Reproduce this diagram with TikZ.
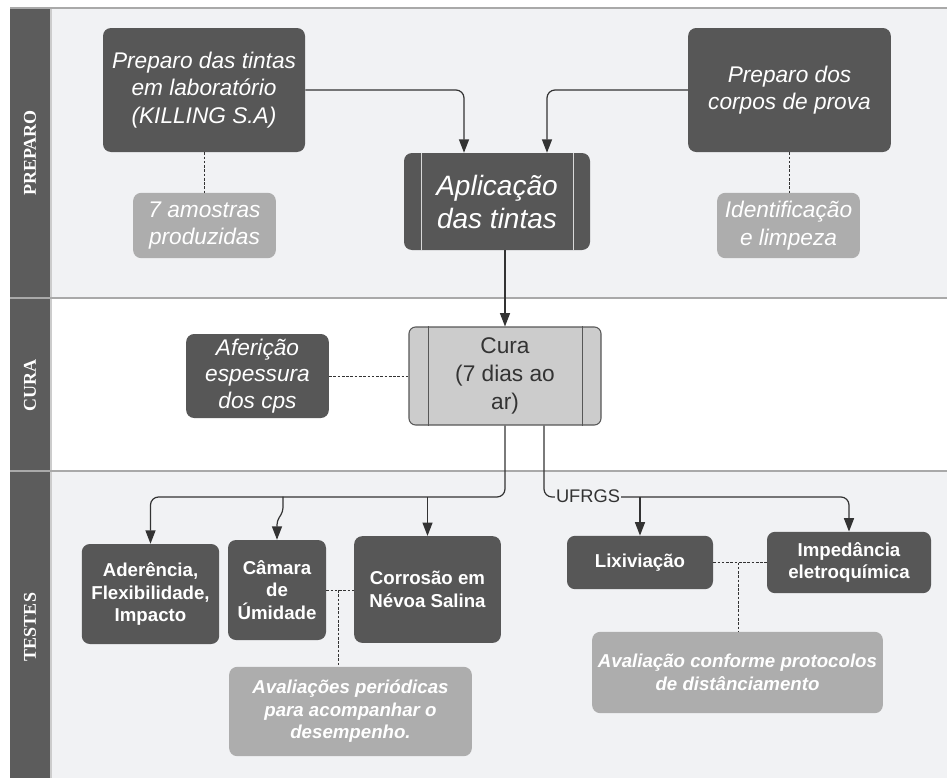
\documentclass[tikz,border=0pt]{standalone}
\usepackage{fontspec}
\setmainfont{Liberation Sans}
\newfontfamily\lanefont{Liberation Serif}
\usetikzlibrary{calc, arrows.meta, positioning}

\definecolor{boxdark}{HTML}{575757}
\definecolor{boxlight}{HTML}{ADADAD}
\definecolor{curafill}{HTML}{CCCCCC}
\definecolor{lanebg}{HTML}{F1F2F4}
\definecolor{laneline}{HTML}{A9A9A9}
\definecolor{headbar}{HTML}{5C5C5C}
\definecolor{wire}{HTML}{333333}

\begin{document}
\begin{tikzpicture}[%
    x=0.75pt, y=-0.75pt,                      % one unit = one pixel
    >={Triangle[length=10pt,width=7.5pt]},    % arrow style
    darkbox/.style={fill=boxdark, rounded corners=6pt, text=white, align=center, inner sep=2pt},
    lightbox/.style={fill=boxlight, rounded corners=6pt, text=white, align=center, inner sep=2pt},
    curabox/.style={draw=boxdark, line width=0.8pt, fill=curafill, rounded corners=5pt, text=black!80, align=center},
    italictext/.style={font=\fontsize{17}{20.6}\selectfont\itshape},
    boldtext/.style={font=\fontsize{14}{16.9}\selectfont\bfseries},
    bolditalic/.style={font=\fontsize{14}{16.9}\selectfont\bfseries\itshape},
    flow/.style={->, draw=wire, line width=0.9pt, rounded corners=6pt},
    dotline/.style={draw=wire, line width=0.6pt, dash pattern=on 2pt off 1.2pt},
    lanelabel/.style={rotate=90, text=white, font=\lanefont\bfseries\fontsize{13.5}{15}\selectfont},
    ]

\useasboundingbox (0,0) rectangle (947,778);

%==================================================
% Lanes
%==================================================
\fill[lanebg] (10,8) rectangle (947,298);
\fill[white]  (10,298) rectangle (947,471);
\fill[lanebg] (10,471) rectangle (947,778);

\fill[headbar] (10,8) rectangle (50,778);
\fill[black!20] (50,8) rectangle (52,778);

\draw[laneline, line width=1.2pt] (10,8) -- (947,8);
\draw[laneline, line width=1.2pt] (10,298) -- (947,298);
\draw[laneline, line width=1.2pt] (10,471) -- (947,471);

\node[lanelabel] (lpreparo) at (30,153) {PREPARO};
\node[lanelabel] (lcura)    at (30,385) {CURA};
\node[lanelabel] (ltestes)  at (30,627) {TESTES};

%==================================================
% Preparo
%==================================================
\node[darkbox, italictext, minimum width=151.5pt, minimum height=93pt] (tintas) at (204,90)
    {Preparo das tintas\\em laboratório\\(KILLING S.A)};
\node[lightbox, italictext, minimum width=107pt, minimum height=49pt] (amostras) at (204.5,225.5)
    {7 amostras\\produzidas};

\node[darkbox, font=\fontsize{21}{24.75}\selectfont\itshape, minimum width=139.5pt, minimum height=72.75pt] (aplic) at (497,201.5)
    {Aplicação\\das tintas};
\draw[black!15, line width=0.8pt] ($(aplic.north west)+(18,0)$) -- ($(aplic.south west)+(18,0)$);
\draw[black!15, line width=0.8pt] ($(aplic.north east)+(-17,0)$) -- ($(aplic.south east)+(-17,0)$);

\node[darkbox, italictext, minimum width=152pt, minimum height=93pt] (corpos) at (789.5,90)
    {Preparo dos\\corpos de prova};
\node[lightbox, italictext, minimum width=107pt, minimum height=49pt] (ident) at (788.5,225.5)
    {Identificação\\e limpeza};

%==================================================
% Cura
%==================================================
\node[curabox, font=\fontsize{17}{21}\selectfont, minimum width=144pt, minimum height=73.5pt] (cura) at (505,376)
    {Cura\\(7 dias ao\\ar)};
\draw[boxdark, line width=0.8pt] ($(cura.north west)+(20,0)$) -- ($(cura.south west)+(20,0)$);
\draw[boxdark, line width=0.8pt] ($(cura.north east)+(-19,0)$) -- ($(cura.south east)+(-19,0)$);

\node[darkbox, font=\fontsize{17}{20}\selectfont\itshape, minimum width=107pt, minimum height=63pt] (afericao) at (257.5,376)
    {Aferição\\espessura\\dos cps};

%==================================================
% Testes
%==================================================
\node[darkbox, boldtext, minimum width=103pt, minimum height=75pt] (aderencia) at (150.5,594)
    {Aderência,\\Flexibilidade,\\Impacto};
\node[darkbox, boldtext, minimum width=73.5pt, minimum height=75pt] (camara) at (277,590)
    {Câmara\\de\\Úmidade};
\node[darkbox, boldtext, minimum width=110pt, minimum height=80pt] (corrosao) at (427.5,589.5)
    {Corrosão em\\Névoa Salina};
\node[lightbox, bolditalic, minimum width=182pt, minimum height=67pt] (avalper) at (350.5,711.5)
    {Avaliações periódicas\\para acompanhar o\\desempenho.};

\node[darkbox, boldtext, minimum width=109.5pt, minimum height=40pt] (lixiv) at (640,562.5)
    {Lixiviação};
\node[darkbox, boldtext, minimum width=123pt, minimum height=46pt] (imped) at (849,562.5)
    {Impedância\\eletroquímica};
\node[lightbox, bolditalic, minimum width=218pt, minimum height=61pt] (avalconf) at (737.5,672.5)
    {Avaliação conforme protocolos\\de distânciamento};

%==================================================
% Dotted links
%==================================================
\draw[dotline] (tintas.south) -- (tintas.south |- amostras.north);
\draw[dotline] (corpos.south) -- (corpos.south |- ident.north);
\draw[dotline] (afericao.east) -- (afericao.east -| cura.west);

\draw[dotline] (camara.east) -- (camara.east -| corrosao.west);
\coordinate (nj1) at ($(camara.east)+(12,0)$);
\draw[dotline] (nj1) -- (nj1 |- avalper.north);

\draw[dotline] (lixiv.east) -- (lixiv.east -| imped.west);
\coordinate (nj2) at ($(lixiv.east)+(25,0)$);
\draw[dotline] (nj2) -- (nj2 |- avalconf.north);

%==================================================
% Arrows
%==================================================
\draw[flow] (tintas.east) -| ($(aplic.north)+(-33,0)$);
\draw[flow] (corpos.west) -| ($(aplic.north)+(50,0)$);
\draw[flow] (aplic.south -| cura.north) -- (cura.north);

% left bus
\coordinate (busL) at (0,497);
\draw[flow] (cura.south) |- (busL -| aderencia.north) -- (aderencia.north);
\draw[flow, rounded corners=3pt] ($(camara.north)+(6,-43)$) -- ++(0,15) -- ($(camara.north)+(0,-19)$) -- (camara.north);
\draw[flow] (corrosao.north |- busL) -- (corrosao.north);

% right bus
\coordinate (busR) at (0,497);
\draw[flow] ($(cura.south)+(39,0)$) |- (busR -| imped.north) -- (imped.north);
\draw[flow] (lixiv.north |- busR) -- (lixiv.north);
\node[fill=lanebg, inner sep=1pt, text=wire, font=\fontsize{13.7}{16}\selectfont] (ufrgs) at (588,496) {UFRGS};

%==================================================
\end{tikzpicture}
\end{document}
